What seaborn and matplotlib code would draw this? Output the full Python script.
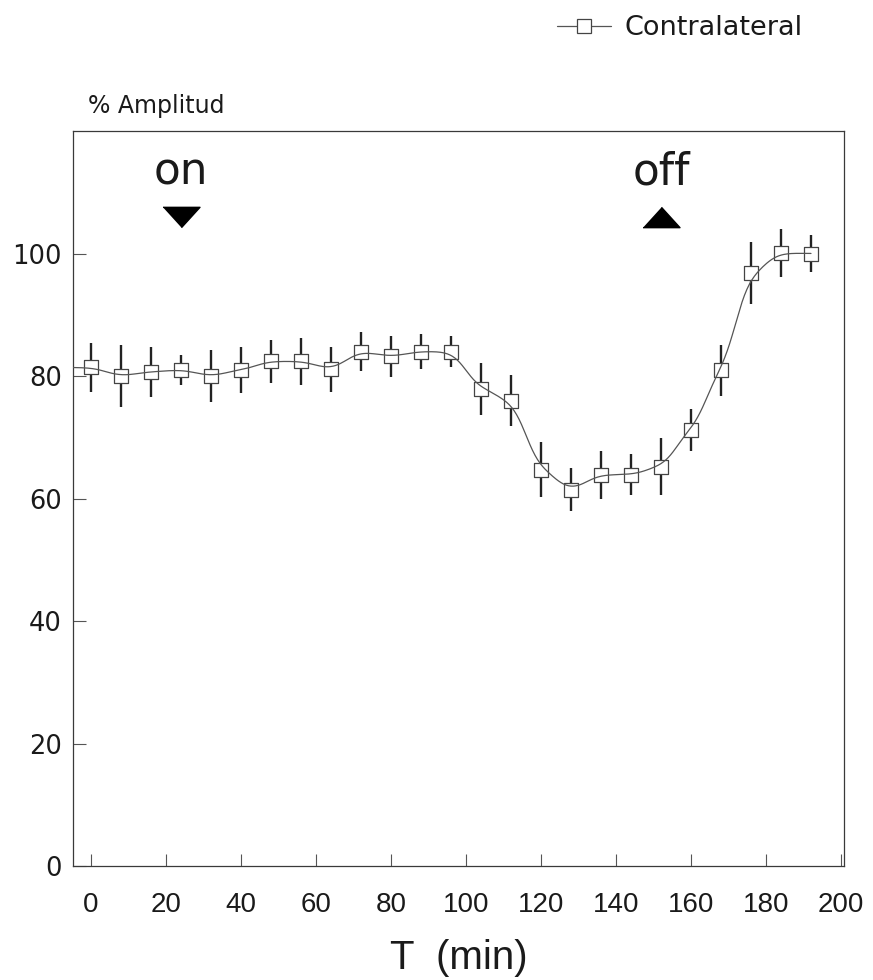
import numpy as np
import pandas as pd
import matplotlib
matplotlib.use("Agg")
import matplotlib.pyplot as plt
from matplotlib.lines import Line2D
import seaborn as sns

# ---------------- data ----------------
time_min = [0, 8, 16, 24, 32, 40, 48, 56, 64, 72, 80, 88, 96,
            104, 112, 120, 128, 136, 144, 152, 160, 168, 176, 184, 192]
amplitude = [81.4, 80.0, 80.7, 81.0, 80.0, 81.0, 82.4, 82.4, 81.1, 84.0, 83.2, 84.0, 84.0,
             77.9, 76.0, 64.7, 61.4, 63.9, 63.9, 65.2, 71.2, 80.9, 96.8, 100.1, 100.0]
amp_err = [4.0, 5.1, 4.1, 2.5, 4.2, 3.7, 3.5, 3.8, 3.7, 3.2, 3.4, 2.9, 2.5,
           4.2, 4.1, 4.5, 3.5, 3.9, 3.3, 4.6, 3.4, 4.2, 5.0, 3.9, 3.1]
series_label = "Contralateral"
event_time = [24, 152]
event_label = ["on", "off"]
event_level = [105.9, 105.9]
x_ticks = [0, 20, 40, 60, 80, 100, 120, 140, 160, 180, 200]
y_ticks = [0, 20, 40, 60, 80, 100]
y_title = "% Amplitud"
x_title = "T  (min)"

df = pd.DataFrame({"t": time_min, "amp": amplitude, "err": amp_err})

# smooth fitted curve (Gaussian kernel smoother of the measured points)
grid = np.linspace(-4.8, max(time_min), 600)
tt = np.asarray(time_min, float)
aa = np.asarray(amplitude, float)
w = np.exp(-0.5 * ((grid[:, None] - tt[None, :]) / 4.0) ** 2)
curve = pd.DataFrame({"t": grid, "amp": (w * aa).sum(1) / w.sum(1)})

# ---------------- style ----------------
sns.set_style("white")
plt.rcParams["font.family"] = ["DejaVu Sans"]

fig = plt.figure(figsize=(8.73, 9.8), dpi=100)
ax = fig.add_axes([73 / 873, 1 - 866 / 980, (844 - 73) / 873, (866 - 131) / 980])

ink = "#1a1a1a"
ax.errorbar(df["t"], df["amp"], yerr=df["err"], fmt="none", ecolor="#222222",
            elinewidth=1.7, capsize=0, zorder=2)
sns.scatterplot(data=df, x="t", y="amp", marker="s", s=106, color="white",
                edgecolor="#444444", linewidth=0.9, ax=ax, zorder=3, legend=False)
sns.lineplot(data=curve, x="t", y="amp", color="#555555", linewidth=0.9,
             ax=ax, zorder=4, legend=False)

# on / off markers
down_tri = [(-1, 0.55), (1, 0.55), (0, -0.55)]
up_tri = [(-1, -0.55), (1, -0.55), (0, 0.55)]
for xe, lab, ye, mk in zip(event_time, event_label, event_level, [down_tri, up_tri]):
    ax.plot([xe], [ye], marker=mk, ms=26.6, color="black", linestyle="none", zorder=5)
    ax.text(xe, 111.2, lab, ha="center", va="baseline", fontsize=31.5,
            family="DejaVu Sans", color=ink)

ax.set_xlim(-4.8, 200.8)
ax.set_ylim(0, 120)
ax.set_xticks(x_ticks)
ax.set_yticks(y_ticks)
ax.set_xticklabels([str(v) for v in x_ticks])
ax.set_yticklabels([str(v) for v in y_ticks])
ax.tick_params(axis="x", bottom=True, top=False, direction="in", length=8.6, width=0.8,
               color="#555555", pad=19, labelsize=20, labelcolor=ink)
ax.tick_params(axis="y", left=True, right=False, direction="in", length=9, width=0.8,
               color="#555555", pad=8, labelsize=18.5, labelcolor=ink)
for lbl in ax.get_xticklabels():
    lbl.set_fontfamily("Liberation Sans")

for sp in ax.spines.values():
    sp.set_visible(True)
    sp.set_color("#3a3a3a")
    sp.set_linewidth(0.9)

ax.set_xlabel(x_title, fontsize=29, family="Liberation Sans", labelpad=15, color=ink)
ax.set_ylabel("")
fig.text(88 / 873, 1 - 113 / 980, y_title, fontsize=17, ha="left", va="baseline", color=ink)

handle = Line2D([], [], color="#555555", lw=0.9, marker="s", ms=10.3,
                mfc="white", mec="#444444", mew=0.9)
fig.legend([handle], [series_label], loc="center left",
           bbox_to_anchor=(557 / 873, 1 - 28 / 980), frameon=False, fontsize=19.5,
           handlelength=2.0, handletextpad=0.5, borderpad=0, borderaxespad=0,
           labelcolor=ink)

fig.savefig("out.png", dpi=100, facecolor="white")
